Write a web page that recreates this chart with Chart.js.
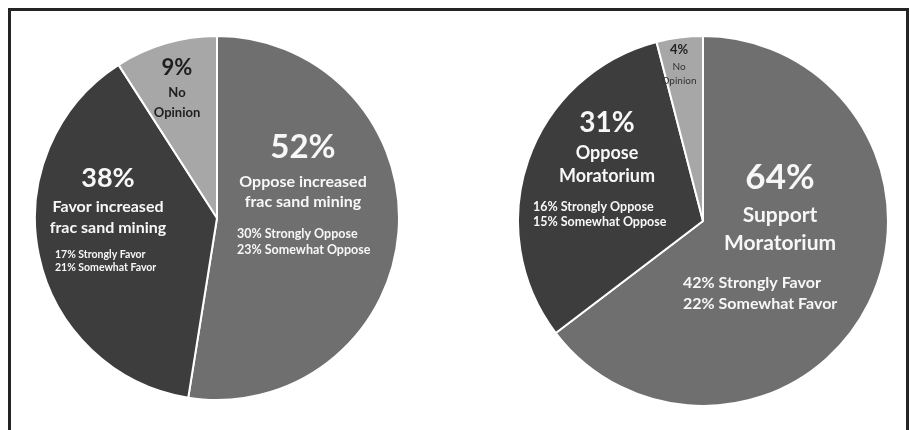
<!DOCTYPE html>
<html>
<head>
<meta charset="utf-8">
<script src="https://cdn.jsdelivr.net/npm/chart.js@4"></script>
<style>
  body { margin: 0; background: #fff; width: 910px; height: 430px; overflow: hidden; position: relative; }
  .frame { position: absolute; left: 8px; top: 8px; width: 895px; height: 470px; border: 3px solid #242424; box-sizing: content-box; }
  canvas { position: absolute; }
  #fracChart { left: 34px; top: 35px; }
  #moraChart { left: 517px; top: 35px; }
</style>
</head>
<body>
<div class="frame"></div>
<canvas id="fracChart" width="366" height="366"></canvas>
<canvas id="moraChart" width="372" height="372"></canvas>
<script>
// left pie: frac sand mining
const fracLabels = ["Oppose increased frac sand mining", "Favor increased frac sand mining", "No Opinion"];
const fracValues = [52, 38, 9];

// right pie: moratorium
const moraLabels = ["Support Moratorium", "Oppose Moratorium", "No Opinion"];
const moraValues = [64, 31, 4];

const sliceColors = ["#6f6f6f", "#3d3d3d", "#a7a7a7"];

const FONT = "Lato, 'Open Sans', sans-serif";

// text blocks drawn over the slices, offsets are px from the pie centre
const sliceText = {
  id: "sliceText",
  afterDatasetsDraw(chart, args, opts) {
    const arc = chart.getDatasetMeta(0).data[0];
    if (!arc) return;
    const cx = arc.x, cy = arc.y;
    const c = chart.ctx;
    c.save();
    c.textBaseline = "middle";
    (opts.items || []).forEach(t => {
      c.font = (t.weight || "bold") + " " + t.size + "px " + FONT;
      c.fillStyle = t.color || "#f7f7f7";
      c.textAlign = t.align || "center";
      c.fillText(t.text, cx + t.dx, cy + t.dy);
    });
    c.restore();
  }
};

function pie(id, labels, values, items) {
  new Chart(document.getElementById(id), {
    type: "pie",
    data: {
      labels: labels,
      datasets: [{
        data: values,
        backgroundColor: sliceColors,
        borderColor: "#ffffff",
        borderWidth: 2,
      }],
    },
    options: {
      responsive: false,
      animation: false,
      layout: { padding: 0 },
      plugins: {
        legend: { display: false },
        tooltip: { enabled: false },
        sliceText: { items: items },
      },
    },
    plugins: [sliceText],
  });
}

pie("fracChart", fracLabels, fracValues, [
  { text: fracValues[0] + "%", size: 33, dx: 86, dy: -71 },
  { text: "Oppose increased", size: 16, dx: 86, dy: -36 },
  { text: "frac sand mining", size: 16, dx: 86, dy: -16 },
  { text: "30% Strongly Oppose", size: 12.5, dx: 20, dy: 16, align: "left" },
  { text: "23% Somewhat Oppose", size: 12.5, dx: 20, dy: 32, align: "left" },

  { text: fracValues[1] + "%", size: 27, dx: -109, dy: -40 },
  { text: "Favor increased", size: 16, dx: -109, dy: -11 },
  { text: "frac sand mining", size: 16, dx: -109, dy: 10 },
  { text: "17% Strongly Favor", size: 10.5, dx: -162, dy: 37, align: "left" },
  { text: "21% Somewhat Favor", size: 10.5, dx: -162, dy: 50, align: "left" },

  { text: fracValues[2] + "%", size: 22, dx: -40, dy: -150, color: "#1e1e1e" },
  { text: "No", size: 13, dx: -40, dy: -125, color: "#1e1e1e" },
  { text: "Opinion", size: 13, dx: -40, dy: -105, color: "#1e1e1e" },
]);

pie("moraChart", moraLabels, moraValues, [
  { text: moraValues[0] + "%", size: 35, dx: 77, dy: -43 },
  { text: "Support", size: 21, dx: 77, dy: -6 },
  { text: "Moratorium", size: 21, dx: 77, dy: 22 },
  { text: "42% Strongly Favor", size: 16, dx: -20, dy: 62, align: "left" },
  { text: "22% Somewhat Favor", size: 16, dx: -20, dy: 83, align: "left" },

  { text: moraValues[1] + "%", size: 28, dx: -96, dy: -98 },
  { text: "Oppose", size: 18, dx: -96, dy: -68 },
  { text: "Moratorium", size: 18, dx: -96, dy: -45 },
  { text: "16% Strongly Oppose", size: 12.5, dx: -170, dy: -14, align: "left" },
  { text: "15% Somewhat Oppose", size: 12.5, dx: -170, dy: 1, align: "left" },

  { text: moraValues[2] + "%", size: 13, dx: -24, dy: -171, color: "#222" },
  { text: "No", size: 10, dx: -24, dy: -154, color: "#333", weight: "normal" },
  { text: "Opinion", size: 10, dx: -24, dy: -140, color: "#333", weight: "normal" },
]);
</script>
</body>
</html>
